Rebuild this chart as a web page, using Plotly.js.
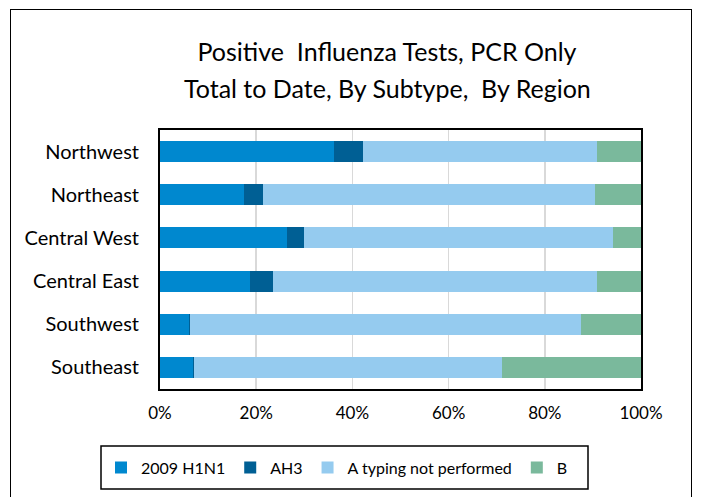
<!DOCTYPE html>
<html>
<head>
<meta charset="utf-8">
<script src="https://cdn.plot.ly/plotly-3.0.1.min.js"></script>
<style>
  html, body { margin: 0; padding: 0; background: #fff; }
  #frame { position: absolute; left: 10px; top: 9px; width: 682px; height: 500px; border: 1.5px solid #000; box-sizing: border-box; }
  #chart { position: absolute; left: 0; top: 0; width: 702px; height: 497px; }
</style>
</head>
<body>
<div id="frame"></div>
<div id="chart"></div>
<script>
const regions = ["Northwest", "Northeast", "Central West", "Central East", "Southwest", "Southeast"];
const seriesNames = ["2009 H1N1", "AH3", "A typing not performed", "B"];
const h1n1 = [0.362, 0.174, 0.263, 0.187, 0.060, 0.068];
const ah3 = [0.061, 0.040, 0.037, 0.048, 0.003, 0.003];
const aNotTyped = [0.485, 0.690, 0.641, 0.673, 0.812, 0.640];
const bType = [0.092, 0.096, 0.059, 0.092, 0.125, 0.289];
const tickVals = [0, 0.2, 0.4, 0.6, 0.8, 1.0];
const tickText = ["0%", "20%", "40%", "60%", "80%", "100%"];
const titleLine1 = "Positive  Influenza Tests, PCR Only";
const titleLine2 = "Total to Date, By Subtype,  By Region";

const colors = ["#0088cf", "#005f94", "#95cbef", "#7ab99c"];
const values = [h1n1, ah3, aNotTyped, bType];
const FONT = 'Lato, "Open Sans", sans-serif';

const traces = seriesNames.map((name, i) => ({
  type: "bar",
  orientation: "h",
  name: name,
  y: regions,
  x: values[i],
  marker: { color: colors[i], line: { width: 0 } },
  hoverinfo: "name+x"
}));

// plot area in pixels: left 160, right 641, top 130, bottom 389
const PW = 481, PH = 259;
const px = v => (v - 160) / PW;
const py = v => (389 - v) / PH;

const layout = {
  width: 702,
  height: 497,
  paper_bgcolor: "rgba(0,0,0,0)",
  plot_bgcolor: "#fff",
  barmode: "stack",
  bargap: 0.51,
  margin: { l: 160, r: 61, t: 130, b: 108, autoexpand: false },
  font: { family: FONT, size: 18, color: "#000" },
  title: {
    text: titleLine1,
    font: { family: FONT, size: 25, color: "#000" },
    x: 387 / 702, xanchor: "center", xref: "container",
    y: 1 - 52 / 497, yanchor: "middle", yref: "container"
  },
  annotations: [{
    text: titleLine2,
    xref: "paper", yref: "paper",
    x: px(387), y: py(88),
    xanchor: "center", yanchor: "middle",
    showarrow: false,
    font: { family: FONT, size: 25, color: "#000" }
  }],
  shapes: [{
    type: "rect",
    xref: "paper", yref: "paper",
    x0: px(101), x1: px(588), y0: py(489), y1: py(446),
    line: { color: "#000", width: 1.5 },
    fillcolor: "#fff",
    layer: "above"
  }],
  xaxis: {
    range: [0, 1],
    tickvals: tickVals,
    ticktext: tickText,
    showgrid: true,
    gridcolor: "#d9d9d9",
    gridwidth: 1.5,
    showline: true,
    linecolor: "#000",
    linewidth: 2,
    mirror: true,
    zeroline: false,
    ticks: "",
    tickfont: { family: FONT, size: 17, color: "#000" },
    ticklabelstandoff: 8,
    fixedrange: true
  },
  yaxis: {
    autorange: "reversed",
    showline: true,
    linecolor: "#000",
    linewidth: 2,
    mirror: true,
    showgrid: false,
    ticks: "",
    ticklabelstandoff: 15,
    tickfont: { family: FONT, size: 20, color: "#000" },
    fixedrange: true
  },
  showlegend: true,
  legend: {
    orientation: "h",
    xref: "paper",
    x: px(101), xanchor: "left",
    y: py(467.5), yanchor: "middle",
    borderwidth: 0,
    bgcolor: "rgba(0,0,0,0)",
    font: { family: FONT, size: 16, color: "#000" },
    traceorder: "normal",
    itemwidth: 30
  }
};

Plotly.newPlot("chart", traces, layout, { displayModeBar: false, staticPlot: true });
</script>
</body>
</html>
